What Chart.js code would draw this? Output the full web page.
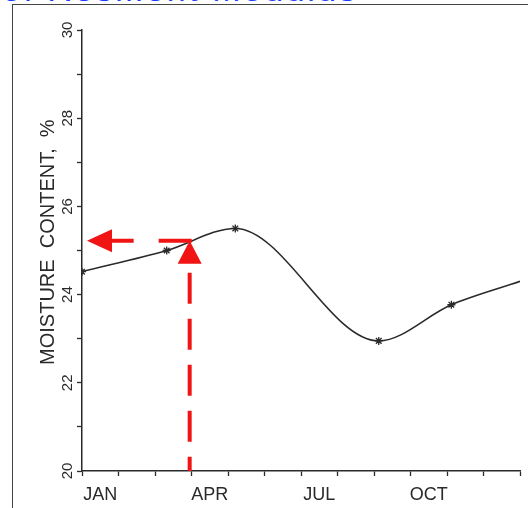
<!DOCTYPE html>
<html>
<head>
<meta charset="utf-8">
<script src="https://cdn.jsdelivr.net/npm/chart.js@4"></script>
<style>
  html, body { margin: 0; padding: 0; background: #fff; width: 528px; height: 508px; overflow: hidden; }
  #head { position: absolute; left: 2px; top: -28px; font: 34px "Liberation Sans", Arial, sans-serif;
          letter-spacing: 2.5px; color: #1a3cff; line-height: 34px; white-space: nowrap; }
  #frame { position: absolute; left: 12px; top: 4px; width: 540px; height: 540px;
           border-left: 1px solid #444; border-top: 1px solid #444; }
  #wrap { position: absolute; left: 0; top: 0; width: 528px; height: 508px; }
</style>
</head>
<body>
<div id="head">of Resilient Modulus</div>
<div id="frame"></div>
<div id="wrap"><canvas id="chart" width="528" height="508"></canvas></div>
<script>
// ─── data ─────────────────────────────────────────────────────────
const months   = [0, 2.32, 4.2, 8.13, 10.12, 12];      // position along the year (0 = start of JAN)
const moisture = [24.52, 25.0, 25.5, 22.95, 23.77, 24.3];
const monthLabels = ['JAN', 'APR', 'JUL', 'OCT'];
const labelAt     = [0.5, 3.5, 6.5, 9.5];
const monthTicks  = [0, 1, 2, 3, 4, 5, 6, 7, 8, 9, 10, 11, 12];
const yTicks      = [20, 21, 22, 23, 24, 25, 26, 27, 28, 29, 30];
const yLabelled   = [20, 22, 24, 26, 28, 30];
// red read-off arrow (the marked point on the curve)
const markMonth = 2.95;
const markValue = 25.22;

const INK = '#2a2a2a';
const RED = '#f01414';
const FONT = '"Liberation Sans", Arial, sans-serif';

// red dashed arrows from the curve to both axes
const readOff = {
  id: 'readOff',
  afterDatasetsDraw(chart) {
    const { ctx, chartArea: a, scales: { x, y } } = chart;
    const px = x.getPixelForValue(markMonth), py = y.getPixelForValue(markValue);
    ctx.save();
    ctx.fillStyle = RED; ctx.strokeStyle = RED; ctx.lineWidth = 4;
    // left arrow, head at the y axis
    const tip = a.left + 5, head = 25;
    ctx.beginPath();
    ctx.moveTo(tip, py); ctx.lineTo(tip + head, py - 11.5); ctx.lineTo(tip + head, py + 11.5);
    ctx.closePath(); ctx.fill();
    ctx.setLineDash([33, 25]);
    ctx.beginPath(); ctx.moveTo(px + 2, py); ctx.lineTo(tip + head, py); ctx.stroke();
    // up arrow from the x axis
    ctx.setLineDash([]);
    ctx.beginPath();
    ctx.moveTo(px, py); ctx.lineTo(px - 12, py + 23); ctx.lineTo(px + 12, py + 23);
    ctx.closePath(); ctx.fill();
    ctx.setLineDash([31, 15]); ctx.lineDashOffset = 37;
    ctx.beginPath(); ctx.moveTo(px, py + 23); ctx.lineTo(px, a.bottom); ctx.stroke();
    ctx.restore();
  }
};

new Chart(document.getElementById('chart'), {
  type: 'line',
  data: {
    datasets: [{
      data: months.map((m, i) => ({ x: m, y: moisture[i] })),
      borderColor: INK, borderWidth: 1.6,
      cubicInterpolationMode: 'monotone',
      pointStyle: 'star',
      pointRadius: months.map((m, i) => (i === months.length - 1 ? 0 : 4)),
      pointBorderColor: INK, pointBorderWidth: 1.3, pointBackgroundColor: INK,
    }],
  },
  options: {
    responsive: false, animation: false, devicePixelRatio: 1,
    layout: { padding: { top: 30, right: 6, left: 0, bottom: 0 } },
    plugins: { legend: { display: false }, tooltip: { enabled: false } },
    scales: {
      x: {
        type: 'linear', min: 0, max: 12,
        afterBuildTicks: s => { s.ticks = [...monthTicks, ...labelAt].sort((p, q) => p - q).map(v => ({ value: v })); },
        afterFit: s => { s.height = 37; },
        border: { display: true, color: INK, width: 1.5 },
        grid: {
          drawOnChartArea: false, tickLength: 5, tickWidth: 1.3,
          tickColor: c => (Number.isInteger(c.tick.value) ? INK : 'rgba(0,0,0,0)'),
        },
        ticks: {
          autoSkip: false, maxRotation: 0, minRotation: 0, padding: 8,
          color: INK, font: { family: FONT, size: 18 },
          callback: v => { const k = labelAt.indexOf(v); return k >= 0 ? monthLabels[k] : ''; },
        },
      },
      y: {
        min: 20, max: 30,
        afterBuildTicks: s => { s.ticks = yTicks.map(v => ({ value: v })); },
        afterFit: s => { s.width = 82; },
        border: { display: true, color: INK, width: 1.5 },
        grid: { drawOnChartArea: false, tickLength: 5, tickWidth: 1.3, tickColor: INK },
        ticks: {
          minRotation: 90, maxRotation: 90, crossAlign: 'center', padding: 1,
          color: INK, font: { family: FONT, size: 15 },
          callback: v => (yLabelled.includes(v) ? String(v) : ''),
        },
        title: {
          display: true, text: '   MOISTURE  CONTENT,  %',
          color: INK, font: { family: FONT, size: 20 },
          padding: { top: 36, bottom: 0 },
        },
      },
    },
  },
  plugins: [readOff],
});
</script>
</body>
</html>
